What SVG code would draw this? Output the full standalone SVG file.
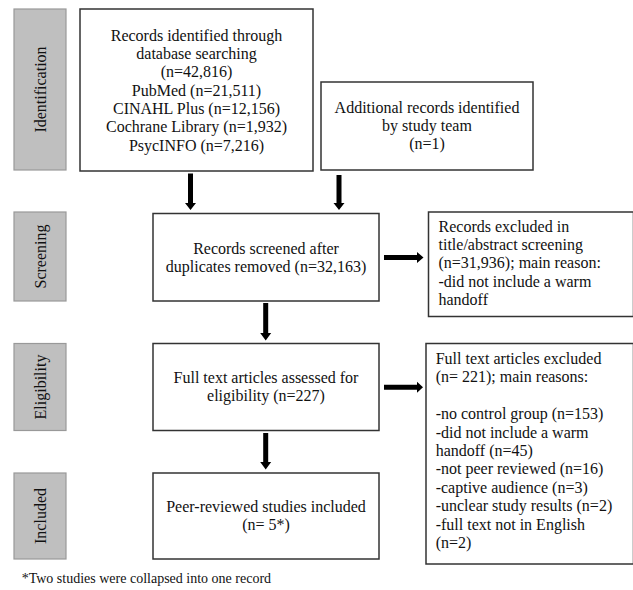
<svg xmlns="http://www.w3.org/2000/svg" width="633" height="590" viewBox="0 0 633 590">
<style>
.box{fill:#fff;stroke:#333;stroke-width:1.5}
.lab{fill:#bfbfbf;stroke:#999;stroke-width:1.2}
text{font-family:"Liberation Serif","Times New Roman",serif;font-size:16px;fill:#111}
.c{text-anchor:middle}
.arr{fill:#000}
</style>
<rect width="633" height="590" fill="#fff"/>
<g id="label-identification"><rect class="lab" x="14" y="9" width="52" height="161"/><text class="c" transform="translate(46,89.5) rotate(-90)">Identification</text></g>
<g id="label-screening"><rect class="lab" x="14" y="212" width="52" height="89"/><text class="c" transform="translate(46,256.5) rotate(-90)">Screening</text></g>
<g id="label-eligibility"><rect class="lab" x="14" y="343.5" width="52" height="87"/><text class="c" transform="translate(46,387) rotate(-90)">Eligibility</text></g>
<g id="label-included"><rect class="lab" x="14" y="473" width="52" height="86"/><text class="c" transform="translate(46,516) rotate(-90)">Included</text></g>
<g id="records-identified"><rect class="box" x="80" y="9" width="233" height="162"/>
<text class="c" x="196.5" y="40.7">Records identified through</text>
<text class="c" x="196.5" y="59">database searching</text>
<text class="c" x="196.5" y="77.3">(n=42,816)</text>
<text class="c" x="196.5" y="95.6">PubMed (n=21,511)</text>
<text class="c" x="196.5" y="113.9">CINAHL Plus (n=12,156)</text>
<text class="c" x="196.5" y="132.2">Cochrane Library (n=1,932)</text>
<text class="c" x="196.5" y="150.5">PsycINFO (n=7,216)</text></g>
<g id="additional-records"><rect class="box" x="321" y="82" width="212" height="88"/>
<text class="c" x="427" y="112.5">Additional records identified</text>
<text class="c" x="427" y="130.8">by study team</text>
<text class="c" x="427" y="149.1">(n=1)</text></g>
<g id="records-screened"><rect class="box" x="153" y="213.5" width="226" height="87.5"/>
<text class="c" x="266" y="253.5">Records screened after</text>
<text class="c" x="266" y="271.8">duplicates removed (n=32,163)</text></g>
<g id="records-excluded"><rect class="box" x="428.5" y="212" width="205" height="104.5"/>
<text x="438.5" y="231.7">Records excluded in</text>
<text x="438.5" y="250">title/abstract screening</text>
<text x="438.5" y="268.3">(n=31,936); main reason:</text>
<text x="438.5" y="286.6">-did not include a warm</text>
<text x="438.5" y="304.9">handoff</text></g>
<g id="full-text-assessed"><rect class="box" x="153" y="343.5" width="226" height="87"/>
<text class="c" x="266" y="383">Full text articles assessed for</text>
<text class="c" x="266" y="401.3">eligibility (n=227)</text></g>
<g id="full-text-excluded"><rect class="box" x="426" y="343.5" width="207.5" height="220.5"/>
<text x="435.7" y="364">Full text articles excluded</text>
<text x="435.7" y="382.4">(n= 221); main reasons:</text>
<text x="435.7" y="419.2">-no control group (n=153)</text>
<text x="435.7" y="437.6">-did not include a warm</text>
<text x="435.7" y="456">handoff (n=45)</text>
<text x="435.7" y="474.4">-not peer reviewed (n=16)</text>
<text x="435.7" y="492.8">-captive audience (n=3)</text>
<text x="435.7" y="511.2">-unclear study results (n=2)</text>
<text x="435.7" y="529.6">-full text not in English</text>
<text x="435.7" y="548">(n=2)</text></g>
<g id="included"><rect class="box" x="153" y="473" width="226" height="86"/>
<text class="c" x="266" y="511.7">Peer-reviewed studies included</text>
<text class="c" x="266" y="530">(n= 5*)</text></g>
<g id="connectors">
<polygon class="arr" points="188,173.5 193,173.5 193,203 196,203 190.5,210 185,203 188,203"/>
<polygon class="arr" points="336.5,175 341.5,175 341.5,203 344.5,203 339,210 333.5,203 336.5,203"/>
<polygon class="arr" points="263.2,303 268.2,303 268.2,333 271.2,333 265.7,340.5 260.2,333 263.2,333"/>
<polygon class="arr" points="263.2,433 268.2,433 268.2,462 271.2,462 265.7,469.5 260.2,462 263.2,462"/>
<polygon class="arr" points="384,255 417,255 417,252 423.5,257.5 417,263 417,260 384,260"/>
<polygon class="arr" points="384,384.8 417,384.8 417,381.8 423,387.3 417,392.8 417,389.8 384,389.8"/>
</g>
<text x="21.7" y="583.3" style="font-size:14px">*Two studies were collapsed into one record</text>
</svg>
